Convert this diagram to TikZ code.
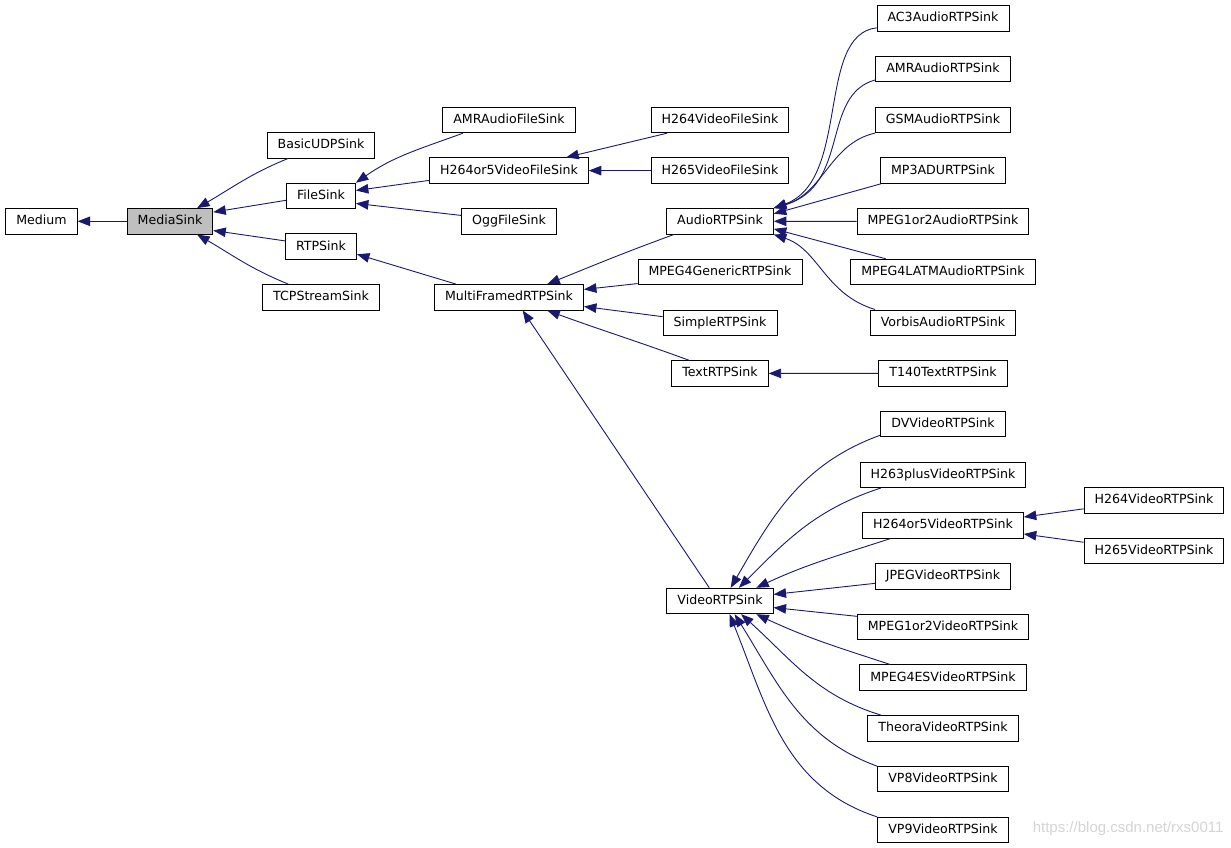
\documentclass[tikz,border=0pt]{standalone}
\usepackage{fontspec}
\setmainfont{DejaVu Sans}
\newfontfamily\markfont{Liberation Sans}
\usetikzlibrary{arrows.meta}
\definecolor{edgeblue}{HTML}{191970}
\definecolor{curfill}{HTML}{BFBFBF}
\definecolor{markgray}{HTML}{D4D4D4}

\begin{document}
\begin{tikzpicture}[x=1pt,y=1pt,
    cls/.style={draw=black,line width=0.9pt,fill=white,font=\fontsize{12.6}{14}\selectfont,
      inner xsep=10.5pt,inner ysep=0pt,minimum height=25.5pt,text height=9.3pt,text depth=2.4pt},
    cur/.style={cls,fill=curfill},
    inh/.style={draw=edgeblue,line width=0.9pt,{Triangle[length=12.5pt,width=9.5pt]}-}]
    \useasboundingbox (0,0) rectangle (1231,-848);
    % left part of the tree
    \node[cls] (Medium) at (41.5,-221.3) {Medium};
    \node[cur] (MediaSink) at (170,-221.3) {MediaSink};
    \foreach \n/\y in {BasicUDPSink/145.2,FileSink/196,RTPSink/246.6,TCPStreamSink/297.3}
      { \node[cls] (\n) at (321,-\y) {\n}; }
    \foreach \n/\y in {AMRAudioFileSink/120,H264or5VideoFileSink/170.6,OggFileSink/221.3,MultiFramedRTPSink/297.3}
      { \node[cls] (\n) at (509,-\y) {\n}; }
    \foreach \n/\y in {H264VideoFileSink/120,H265VideoFileSink/170.6,AudioRTPSink/221.3,MPEG4GenericRTPSink/272,
      SimpleRTPSink/322.7,TextRTPSink/373.4,VideoRTPSink/601}
      { \node[cls] (\n) at (720,-\y) {\n}; }
    % right column
    \foreach \n [count=\k from 0] in {AC3AudioRTPSink,AMRAudioRTPSink,GSMAudioRTPSink,MP3ADURTPSink,
      MPEG1or2AudioRTPSink,MPEG4LATMAudioRTPSink,VorbisAudioRTPSink,T140TextRTPSink,DVVideoRTPSink,
      H263plusVideoRTPSink,H264or5VideoRTPSink,JPEGVideoRTPSink,MPEG1or2VideoRTPSink,MPEG4ESVideoRTPSink,
      TheoraVideoRTPSink,VP8VideoRTPSink,VP9VideoRTPSink}
      { \node[cls] (\n) at (943,-18.5-50.7*\k) {\n}; }
    \node[cls] (H264VideoRTPSink) at (1154,-500.2) {H264VideoRTPSink};
    \node[cls] (H265VideoRTPSink) at (1154,-550.9) {H265VideoRTPSink};

    % MediaSink and its subclasses
    \draw[inh] (Medium) -- (MediaSink);
    \draw[inh] (MediaSink.26) to[out=30,in=202] (BasicUDPSink.202);
    \draw[inh] (MediaSink.12) -- (FileSink.187);
    \draw[inh] (MediaSink.-12) -- (RTPSink.171);
    \draw[inh] (MediaSink.-26) to[out=-30,in=158] (TCPStreamSink.158);
    % file sinks
    \draw[inh] (FileSink.north east) to[out=35,in=200] (AMRAudioFileSink.196);
    \draw[inh] (FileSink.9) -- (H264or5VideoFileSink.187);
    \draw[inh] (FileSink.-12) -- (OggFileSink.173);
    \draw[inh] (H264or5VideoFileSink.13) -- (H264VideoFileSink.194);
    \draw[inh] (H264or5VideoFileSink) -- (H265VideoFileSink);
    % rtp sinks
    \draw[inh] (RTPSink.-12) -- (MultiFramedRTPSink.166);
    \draw[inh] (MultiFramedRTPSink.19) to[out=22,in=200] (AudioRTPSink.196);
    \draw[inh] (MultiFramedRTPSink.6) -- (MPEG4GenericRTPSink.188);
    \draw[inh] (MultiFramedRTPSink.-7) -- (SimpleRTPSink.174);
    \draw[inh] (MultiFramedRTPSink.-19) to[out=-20,in=160] (TextRTPSink.157);
    \draw[inh] (MultiFramedRTPSink.-44) -- (VideoRTPSink.129);
    \draw[inh] (TextRTPSink) -- (T140TextRTPSink);
    % audio
    \draw[inh] (AudioRTPSink.north east) .. controls +(77,28) and +(-61,-7) .. (AC3AudioRTPSink.188);
    \draw[inh] (AudioRTPSink.north east) .. controls +(77,23) and +(-55,-15) .. (AMRAudioRTPSink.189);
    \draw[inh] (AudioRTPSink.north east) .. controls +(50,15) and +(-45,-10) .. (GSMAudioRTPSink.191);
    \draw[inh] (AudioRTPSink.8) -- (MP3ADURTPSink.192);
    \draw[inh] (AudioRTPSink) -- (MPEG1or2AudioRTPSink);
    \draw[inh] (AudioRTPSink.-8) -- (MPEG4LATMAudioRTPSink.167);
    \draw[inh] (AudioRTPSink.south east) .. controls +(45,-15) and +(-50,15) .. (VorbisAudioRTPSink.169);
    % video
    \draw[inh] (VideoRTPSink.51) to[out=60,in=200] (DVVideoRTPSink.190);
    \draw[inh] (VideoRTPSink.35) to[out=45,in=198] (H263plusVideoRTPSink.192);
    \draw[inh] (VideoRTPSink.20) to[out=25,in=198] (H264or5VideoRTPSink.194);
    \draw[inh] (VideoRTPSink.7) -- (JPEGVideoRTPSink.186);
    \draw[inh] (VideoRTPSink.-7) -- (MPEG1or2VideoRTPSink.173);
    \draw[inh] (VideoRTPSink.-20) to[out=-25,in=162] (MPEG4ESVideoRTPSink.166);
    \draw[inh] (VideoRTPSink.-32) to[out=-42,in=163] (TheoraVideoRTPSink.168);
    \draw[inh] (VideoRTPSink.-42) to[out=-58,in=160] (VP8VideoRTPSink.169);
    \draw[inh] (VideoRTPSink.-54) to[out=-68,in=162] (VP9VideoRTPSink.169);
    \draw[inh] (H264or5VideoRTPSink.6) -- (H264VideoRTPSink.187);
    \draw[inh] (H264or5VideoRTPSink.-6) -- (H265VideoRTPSink.173);

    \node[text=markgray,font=\markfont\fontsize{15}{17}\selectfont,anchor=east] (watermark) at (1227,-829) {https://blog.csdn.net/rxs0011};
\end{tikzpicture}
\end{document}
